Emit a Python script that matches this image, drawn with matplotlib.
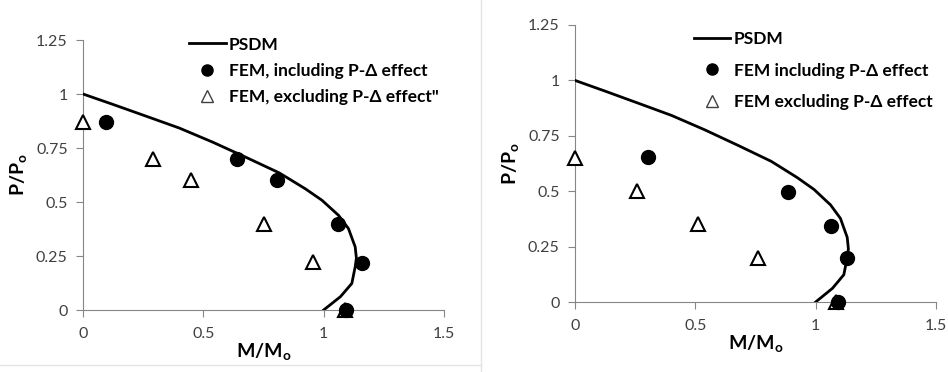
import matplotlib
matplotlib.use("Agg")
import matplotlib.pyplot as plt
from matplotlib.lines import Line2D

plt.rcParams["font.family"] = ["Lato", "DejaVu Sans"]
plt.rcParams["mathtext.fontset"] = "custom"
plt.rcParams["mathtext.bf"] = "Lato:bold"
plt.rcParams["mathtext.rm"] = "Lato"

# PSDM interaction curve (same for both columns)
psdm_m = [0.0, 0.124, 0.263, 0.401, 0.539, 0.677, 0.815, 0.855, 0.924, 0.993,
          1.062, 1.103, 1.131, 1.136, 1.131, 1.117, 1.070, 1.0]
psdm_p = [1.0, 0.952, 0.897, 0.842, 0.777, 0.707, 0.635, 0.608, 0.561, 0.508,
          0.438, 0.377, 0.292, 0.240, 0.200, 0.123, 0.062, 0.0]

# column A
a_inc_m = [0.094, 0.64, 0.806, 1.061, 1.159, 1.091]
a_inc_p = [0.869, 0.698, 0.60, 0.40, 0.218, 0.0]
a_exc_m = [0.0, 0.29, 0.45, 0.753, 0.957, 1.088]
a_exc_p = [0.87, 0.70, 0.60, 0.40, 0.22, 0.0]

# column B
b_inc_m = [0.303, 0.886, 1.064, 1.129, 1.091]
b_inc_p = [0.654, 0.496, 0.345, 0.198, 0.0]
b_exc_m = [0.0, 0.258, 0.51, 0.762, 1.085]
b_exc_p = [0.65, 0.50, 0.35, 0.20, 0.0]

xticks = [0, 0.5, 1, 1.5]
xlabels = ["0", "0.5", "1", "1.5"]
yticks = [0, 0.25, 0.5, 0.75, 1, 1.25]
ylabels = ["0", "0.25", "0.5", "0.75", "1", "1.25"]

fig = plt.figure(figsize=(9.48, 3.72), dpi=100)
ax1 = fig.add_axes([83 / 948, 62 / 372, 361 / 948, 270 / 372])
ax2 = fig.add_axes([575 / 948, 70 / 372, 361 / 948, 277 / 372])

grey = "#868686"


def draw(ax, inc_m, inc_p, exc_m, exc_p, labels, leg_xy, spacing):
    ax.plot(psdm_m, psdm_p, color="black", lw=2, label=labels[0], zorder=3,
            solid_joinstyle="round")
    ax.plot(inc_m, inc_p, "o", color="black", ms=10, label=labels[1],
            clip_on=False, zorder=4)
    ax.plot(exc_m, exc_p, "^", mfc="white", mec="black", mew=1.5, ms=10,
            label=labels[2], clip_on=False, zorder=3)
    ax.set_xlim(0, 1.5)
    ax.set_ylim(0, 1.25)
    ax.set_xticks(xticks)
    ax.set_xticklabels(xlabels)
    ax.set_yticks(yticks)
    ax.set_yticklabels(ylabels)
    for s in ["top", "right"]:
        ax.spines[s].set_visible(False)
    for s in ["left", "bottom"]:
        ax.spines[s].set_color(grey)
        ax.spines[s].set_linewidth(0.8)
    ax.tick_params(colors=grey, labelcolor="#404040", labelsize=11.5,
                   length=5, width=0.8, direction="out")
    ax.tick_params(axis="x", pad=7)
    ax.tick_params(axis="y", pad=6)
    ax.set_xlabel(r"$\mathbf{M/M}_\mathbf{o}$", fontsize=14, labelpad=1)
    ax.set_ylabel(r"$\mathbf{P/P}_\mathbf{o}$", fontsize=14, labelpad=4)

    handles = [
        Line2D([], [], color="black", lw=2),
        Line2D([], [], marker="o", ls="", color="black", ms=8),
        Line2D([], [], marker="^", ls="", mfc="white", mec="#404040", mew=1, ms=8),
    ]
    leg = ax.legend(handles, labels, loc="upper left", bbox_to_anchor=leg_xy,
                    frameon=False, borderpad=0, handlelength=2.1,
                    handletextpad=0.2, labelspacing=spacing,
                    prop={"weight": "bold", "size": 12.5})
    return leg


draw(ax1, a_inc_m, a_inc_p, a_exc_m, a_exc_p,
     ["PSDM", "FEM, including P-Δ effect", "FEM, excluding P-Δ effect\""],
     (0.27, 1.045), 0.6)
draw(ax2, b_inc_m, b_inc_p, b_exc_m, b_exc_p,
     ["PSDM", "FEM including P-Δ effect", "FEM excluding P-Δ effect"],
     (0.305, 1.01), 0.9)

# faint chart-area borders between the two panels
border = "#e4e4e4"
fig.add_artist(Line2D([481 / 948, 481 / 948], [0, 1], color=border, lw=1))
fig.add_artist(Line2D([0, 481 / 948], [7 / 372, 7 / 372], color=border, lw=1))

fig.savefig("out.png", dpi=100)
